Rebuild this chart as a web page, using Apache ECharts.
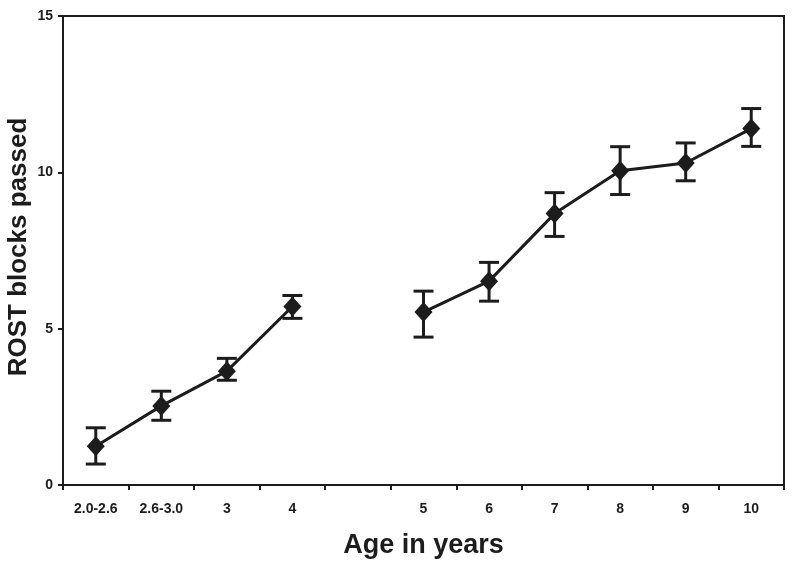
<!DOCTYPE html>
<html>
<head>
<meta charset="utf-8">
<script src="https://cdn.jsdelivr.net/npm/echarts@6/dist/echarts.min.js"></script>
<style>html,body{margin:0;padding:0;background:#fff;}#c{width:794px;height:566px;}</style>
</head>
<body>
<div id="c"></div>
<script>
// Categories ('' is the empty slot between 4 and 5 years)
const ageLabels = ['2.0-2.6', '2.6-3.0', '3', '4', '', '5', '6', '7', '8', '9', '10'];
// Mean ROST blocks passed
const means = [1.24, 2.53, 3.64, 5.71, null, 5.53, 6.52, 8.68, 10.05, 10.3, 11.4];
// Error bar lower / upper ends
const lows  = [0.67, 2.07, 3.35, 5.33, null, 4.73, 5.88, 7.95, 9.29, 9.73, 10.83];
const highs = [1.83, 3.00, 4.05, 6.06, null, 6.20, 7.12, 9.35, 10.82, 10.94, 12.04];
const yTicks = [0, 5, 10, 15];

const errData = [];
ageLabels.forEach((c, i) => { if (means[i] != null) errData.push([i, lows[i], highs[i]]); });

const ink = '#1c1c1c';
const font = 'Liberation Sans, Arial, sans-serif';
const chart = echarts.init(document.getElementById('c'));
chart.setOption({
  backgroundColor: '#ffffff',
  animation: false,
  grid: { left: 63, right: 10, top: 16, bottom: 81, containLabel: false, outerBoundsMode: 'none', show: true, borderColor: ink, borderWidth: 2, backgroundColor: 'transparent' },
  xAxis: {
    type: 'category',
    data: ageLabels,
    boundaryGap: true,
    axisLine: { lineStyle: { color: ink, width: 2 } },
    axisTick: { show: true, inside: false, length: 5, lineStyle: { color: ink, width: 2 } },
    axisLabel: { color: ink, fontFamily: font, fontWeight: 'bold', fontSize: 14, margin: 17, interval: 0 },
    name: 'Age in years',
    nameLocation: 'middle',
    nameGap: 47,
    nameMoveOverlap: false,
    nameTextStyle: { color: ink, fontFamily: font, fontWeight: 'bold', fontSize: 27 }
  },
  yAxis: {
    type: 'value',
    min: yTicks[0],
    max: yTicks[yTicks.length - 1],
    interval: 5,
    splitLine: { show: false },
    axisLine: { show: true, lineStyle: { color: ink, width: 2 } },
    axisTick: { show: true, inside: false, length: 5, lineStyle: { color: ink, width: 2 } },
    axisLabel: { color: ink, fontFamily: font, fontWeight: 'bold', fontSize: 14, margin: 10 },
    name: 'ROST blocks passed',
    nameLocation: 'middle',
    nameGap: 31,
    nameMoveOverlap: false,
    nameTextStyle: { color: ink, fontFamily: font, fontWeight: 'bold', fontSize: 26, padding: [0, 0, 0, 7] }
  },
  series: [
    {
      type: 'custom',
      data: errData,
      z: 2,
      renderItem: function (params, api) {
        const x = api.value(0);
        const top = api.coord([x, api.value(2)]);
        const bot = api.coord([x, api.value(1)]);
        const hw = 10;
        const st = { stroke: ink, lineWidth: 3 };
        return {
          type: 'group',
          children: [
            { type: 'line', shape: { x1: top[0], y1: top[1], x2: bot[0], y2: bot[1] }, style: st },
            { type: 'line', shape: { x1: top[0] - hw, y1: top[1], x2: top[0] + hw, y2: top[1] }, style: st },
            { type: 'line', shape: { x1: bot[0] - hw, y1: bot[1], x2: bot[0] + hw, y2: bot[1] }, style: st }
          ]
        };
      }
    },
    {
      type: 'line',
      data: means,
      connectNulls: false,
      z: 3,
      symbol: 'diamond',
      symbolSize: [18, 20],
      lineStyle: { color: ink, width: 3 },
      itemStyle: { color: ink, borderWidth: 0 }
    }
  ]
});
</script>
</body>
</html>
